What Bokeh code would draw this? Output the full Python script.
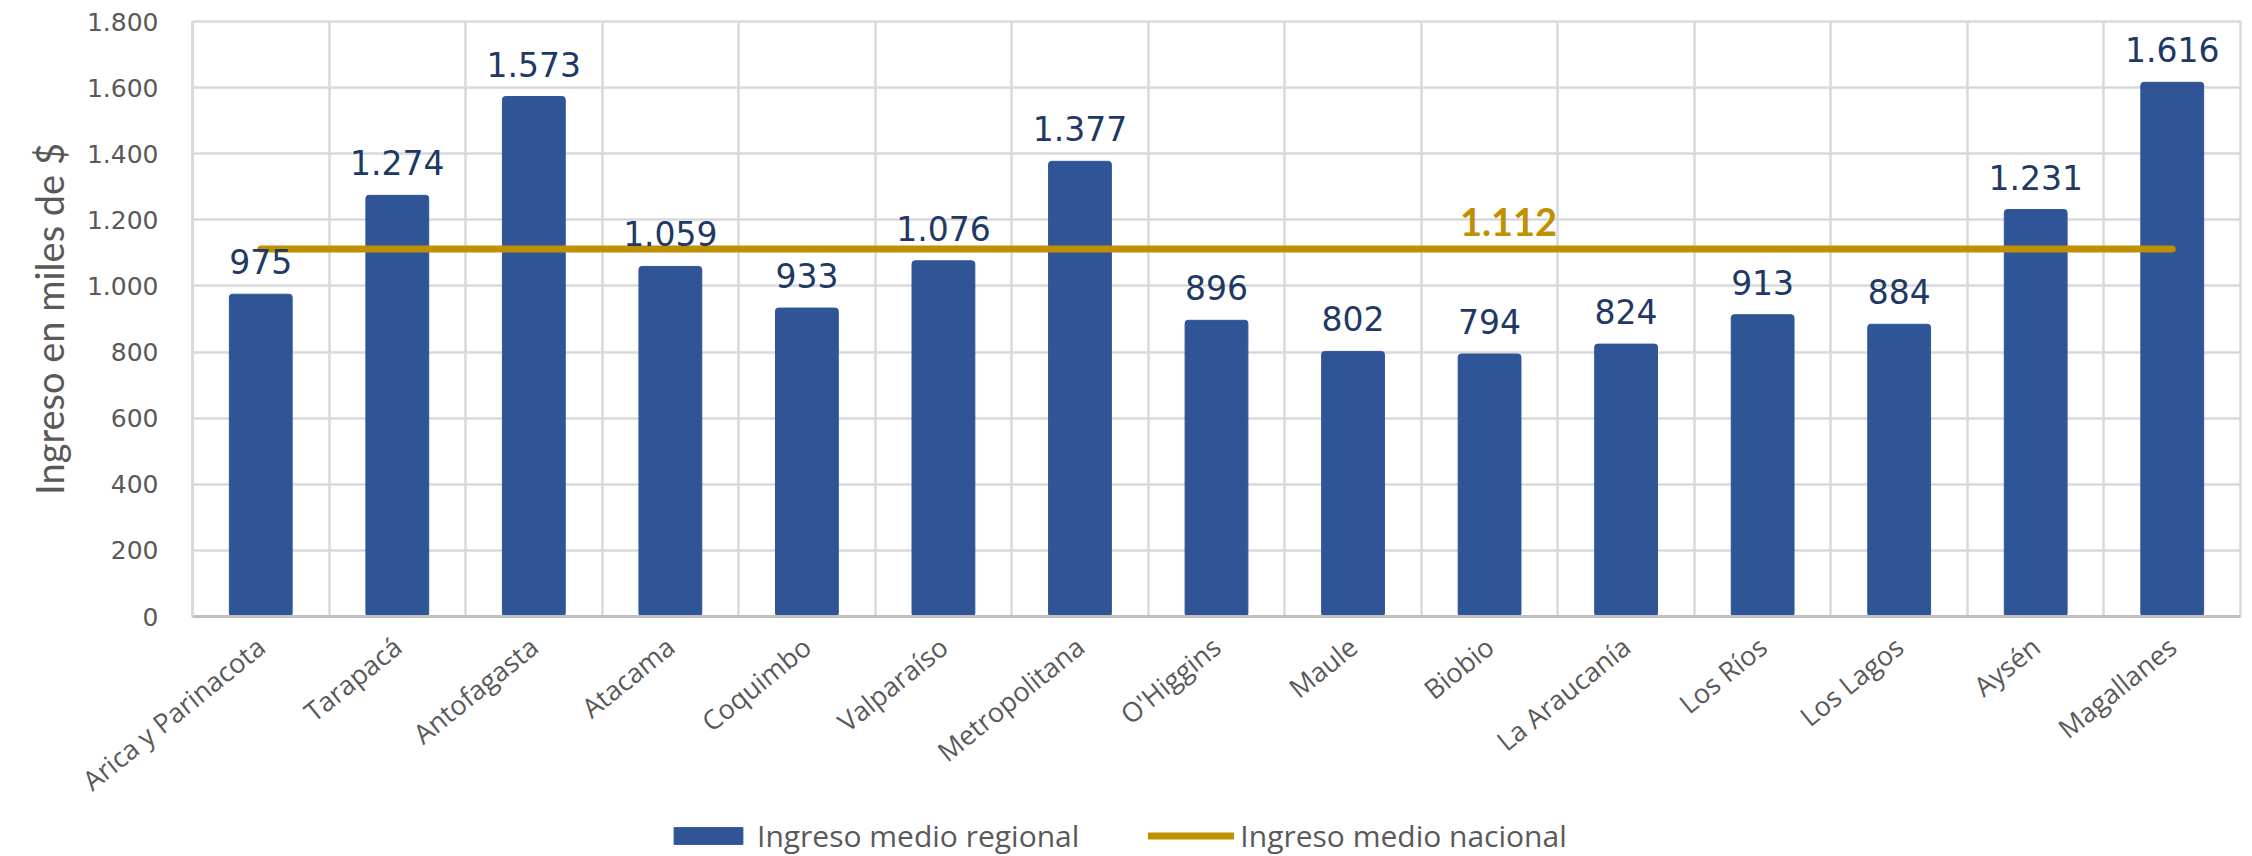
from bokeh.plotting import figure
from bokeh.layouts import column
from bokeh.models import (ColumnDataSource, FixedTicker, LabelSet, Label, Legend,
                          LegendItem, Range1d)
from bokeh.embed import file_html
from bokeh.resources import INLINE
from bokeh.core.properties import value

# ---------------- data ----------------
regiones = ["Arica y Parinacota", "Tarapacá", "Antofagasta", "Atacama", "Coquimbo",
            "Valparaíso", "Metropolitana", "O'Higgins", "Maule", "Biobio",
            "La Araucanía", "Los Ríos", "Los Lagos", "Aysén", "Magallanes"]
ingreso_regional = [975, 1274, 1573, 1059, 933, 1076, 1377, 896, 802, 794,
                    824, 913, 884, 1231, 1616]
ingreso_nacional = 1112
y_ticks = [0, 200, 400, 600, 800, 1000, 1200, 1400, 1600, 1800]
y_tick_labels = ["0", "200", "400", "600", "800", "1.000", "1.200", "1.400",
                 "1.600", "1.800"]
serie_regional = "Ingreso medio regional"
serie_nacional = "Ingreso medio nacional"
y_titulo = "Ingreso en miles de $"


def fmt(v):
    return f"{v:,}".replace(",", ".")


n = len(regiones)
xs = [i + 0.5 for i in range(n)]
src = ColumnDataSource(dict(x=xs, y=ingreso_regional,
                            label=[fmt(v) for v in ingreso_regional]))
nac_src = ColumnDataSource(dict(x=[xs[0], xs[-1]],
                                y=[ingreso_nacional, ingreso_nacional]))

GRID = "#D9D9D9"
TXT = "#595959"
BLUE = "#2F5597"
GOLD = "#BF9000"
NAVY = "#203864"

W = 2252
TOP = 21
FRAME_H = 595
H_MAIN = 818
H_LEG = 38

p = figure(width=W, height=H_MAIN, output_backend="svg", toolbar_location=None,
           x_range=Range1d(0, n), y_range=Range1d(0, 1800),
           min_border_left=192, min_border_top=TOP, min_border_right=12,
           min_border_bottom=H_MAIN - TOP - FRAME_H)
p.outline_line_color = GRID
p.outline_line_width = 2.5
p.background_fill_color = "white"
p.border_fill_color = "white"

# grids
p.xgrid.ticker = FixedTicker(ticks=list(range(n + 1)))
p.ygrid.ticker = FixedTicker(ticks=y_ticks)
for g in (p.xgrid, p.ygrid):
    g.grid_line_color = GRID
    g.grid_line_width = 2.5

# y axis
p.yaxis.ticker = FixedTicker(ticks=y_ticks)
p.yaxis.major_label_overrides = {t: l for t, l in zip(y_ticks, y_tick_labels)}
p.yaxis.major_label_text_font = "DejaVu Sans"
p.yaxis.major_label_text_font_size = "25px"
p.yaxis.major_label_text_color = TXT
p.yaxis.major_tick_line_color = None
p.yaxis.minor_tick_line_color = None
p.yaxis.major_tick_out = 0
p.yaxis.major_tick_in = 0
p.yaxis.major_label_standoff = 34
p.yaxis.axis_line_color = GRID
p.yaxis.axis_line_width = 2.5
p.yaxis.axis_label = y_titulo
p.yaxis.axis_label_text_font = "Lato"
p.yaxis.axis_label_text_font_style = "normal"
p.yaxis.axis_label_text_font_size = "38px"
p.yaxis.axis_label_text_color = TXT
p.yaxis.axis_label_standoff = 12

# x axis
p.xaxis.ticker = FixedTicker(ticks=xs)
p.xaxis.major_label_overrides = {x: r for x, r in zip(xs, regiones)}
p.xaxis.major_label_orientation = 0.68
p.xaxis.major_label_text_font = "Open Sans"
p.xaxis.major_label_text_font_size = "27px"
p.xaxis.major_label_text_color = TXT
p.xaxis.major_tick_line_color = None
p.xaxis.minor_tick_line_color = None
p.xaxis.major_tick_out = 0
p.xaxis.major_tick_in = 0
p.xaxis.major_label_standoff = 26
p.xaxis.axis_line_color = "#BFBFBF"
p.xaxis.axis_line_width = 3

# bars
bars = p.vbar(x="x", top="y", width=0.46, source=src, fill_color=BLUE,
              line_color=BLUE, border_radius=3)

# national average line
line = p.line(x="x", y="y", source=nac_src, line_color=GOLD, line_width=7,
              line_cap="round")

# data labels
labels = LabelSet(x="x", y="y", text="label", source=src, text_align="center",
                  text_baseline="alphabetic", y_offset=20,
                  text_font=value("DejaVu Sans"), text_font_size=value("33px"),
                  text_color=NAVY)
p.add_layout(labels)

nac_label = Label(x=xs[9], y=ingreso_nacional, text=fmt(ingreso_nacional),
                  x_offset=19, y_offset=27, text_align="center",
                  text_baseline="alphabetic", text_font="Lato",
                  text_font_style="bold", text_font_size="38px",
                  text_color=GOLD)
p.add_layout(nac_label)

# ---------------- legend strip (separate figure below) ----------------
# same series drawn again, but outside this strip's visible range, so only
# their legend entries show
pl = figure(width=W, height=H_LEG, output_backend="svg", toolbar_location=None,
            x_range=Range1d(-20, -10), y_range=Range1d(-20, -10),
            x_axis_type=None, y_axis_type=None, min_border=0)
pl.outline_line_color = None
pl.xgrid.visible = False
pl.ygrid.visible = False
pl.background_fill_color = "white"
pl.border_fill_color = "white"
leg_bar = pl.vbar(x="x", top="y", width=0.46, source=src, fill_color=BLUE,
                  line_color=BLUE, border_radius=3)
leg_line = pl.line(x="x", y="y", source=nac_src, line_color=GOLD, line_width=7,
                   line_cap="round")

legend = Legend(items=[LegendItem(label=serie_regional, renderers=[leg_bar]),
                       LegendItem(label=serie_nacional, renderers=[leg_line])],
                orientation="horizontal", location=(665 - 192, 0),
                glyph_width=86, glyph_height=21, label_standoff=6, spacing=69,
                border_line_color=None, background_fill_alpha=0,
                label_text_font="Open Sans", label_text_font_size="30px",
                label_text_color=TXT, padding=0, margin=0)
pl.add_layout(legend)

layout = column(p, pl, spacing=0)
open("out.html", "w").write(file_html(layout, INLINE))
